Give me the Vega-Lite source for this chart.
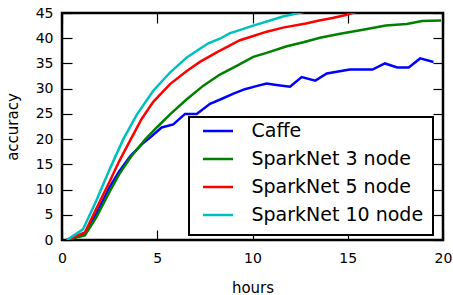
{
  "$schema": "https://vega.github.io/schema/vega-lite/v6.json",
  "width": 381,
  "height": 227,
  "autosize": {"type": "none"},
  "padding": {"left": 62, "top": 13, "right": 10, "bottom": 55},
  "config": {
    "font": "DejaVu Sans",
    "view": {"stroke": "black", "strokeWidth": 2.5},
    "axis": {
      "domain": false,
      "grid": false,
      "labelFlush": false,
      "tickColor": "black",
      "tickWidth": 1.2,
      "tickSize": -10,
      "labelFont": "DejaVu Sans",
      "labelFontSize": 14,
      "labelColor": "black",
      "titleFont": "DejaVu Sans",
      "titleFontSize": 15,
      "titleFontWeight": "normal",
      "titleColor": "black"
    },
    "legend": {
      "labelFont": "DejaVu Sans",
      "labelFontSize": 19,
      "labelColor": "black"
    }
  },
  "data": {
    "values": [
      {"series": "Caffe", "hours": 0.25, "accuracy": 0},
      {"series": "Caffe", "hours": 1.2, "accuracy": 1.2},
      {"series": "Caffe", "hours": 1.8, "accuracy": 5.2},
      {"series": "Caffe", "hours": 2.5, "accuracy": 10.5},
      {"series": "Caffe", "hours": 3.0, "accuracy": 13.6},
      {"series": "Caffe", "hours": 3.6, "accuracy": 16.7},
      {"series": "Caffe", "hours": 4.2, "accuracy": 19.0},
      {"series": "Caffe", "hours": 4.62, "accuracy": 20.3},
      {"series": "Caffe", "hours": 5.23, "accuracy": 22.3},
      {"series": "Caffe", "hours": 5.84, "accuracy": 22.9},
      {"series": "Caffe", "hours": 6.46, "accuracy": 25.0},
      {"series": "Caffe", "hours": 7.07, "accuracy": 25.0},
      {"series": "Caffe", "hours": 7.77, "accuracy": 27.0},
      {"series": "Caffe", "hours": 8.4, "accuracy": 28.0},
      {"series": "Caffe", "hours": 9.0, "accuracy": 29.0},
      {"series": "Caffe", "hours": 9.6, "accuracy": 29.9},
      {"series": "Caffe", "hours": 10.2, "accuracy": 30.5},
      {"series": "Caffe", "hours": 10.74, "accuracy": 31.0},
      {"series": "Caffe", "hours": 11.35, "accuracy": 30.7},
      {"series": "Caffe", "hours": 11.97, "accuracy": 30.4},
      {"series": "Caffe", "hours": 12.58, "accuracy": 32.3},
      {"series": "Caffe", "hours": 13.3, "accuracy": 31.6},
      {"series": "Caffe", "hours": 13.9, "accuracy": 33.0},
      {"series": "Caffe", "hours": 14.5, "accuracy": 33.4},
      {"series": "Caffe", "hours": 15.1, "accuracy": 33.8},
      {"series": "Caffe", "hours": 16.3, "accuracy": 33.8},
      {"series": "Caffe", "hours": 16.95, "accuracy": 35.0},
      {"series": "Caffe", "hours": 17.6, "accuracy": 34.2},
      {"series": "Caffe", "hours": 18.2, "accuracy": 34.2},
      {"series": "Caffe", "hours": 18.8, "accuracy": 36.0},
      {"series": "Caffe", "hours": 19.5, "accuracy": 35.3},

      {"series": "SparkNet 3 node", "hours": 0.25, "accuracy": 0},
      {"series": "SparkNet 3 node", "hours": 1.2, "accuracy": 0.9},
      {"series": "SparkNet 3 node", "hours": 1.8, "accuracy": 4.5},
      {"series": "SparkNet 3 node", "hours": 2.5, "accuracy": 9.6},
      {"series": "SparkNet 3 node", "hours": 3.0, "accuracy": 13.0},
      {"series": "SparkNet 3 node", "hours": 3.6, "accuracy": 16.4},
      {"series": "SparkNet 3 node", "hours": 4.36, "accuracy": 19.9},
      {"series": "SparkNet 3 node", "hours": 5.0, "accuracy": 22.4},
      {"series": "SparkNet 3 node", "hours": 5.67, "accuracy": 24.9},
      {"series": "SparkNet 3 node", "hours": 6.55, "accuracy": 27.9},
      {"series": "SparkNet 3 node", "hours": 7.42, "accuracy": 30.6},
      {"series": "SparkNet 3 node", "hours": 8.29, "accuracy": 32.8},
      {"series": "SparkNet 3 node", "hours": 9.17, "accuracy": 34.5},
      {"series": "SparkNet 3 node", "hours": 10.04, "accuracy": 36.3},
      {"series": "SparkNet 3 node", "hours": 10.74, "accuracy": 37.1},
      {"series": "SparkNet 3 node", "hours": 11.8, "accuracy": 38.4},
      {"series": "SparkNet 3 node", "hours": 12.67, "accuracy": 39.2},
      {"series": "SparkNet 3 node", "hours": 13.54, "accuracy": 40.1},
      {"series": "SparkNet 3 node", "hours": 14.6, "accuracy": 40.9},
      {"series": "SparkNet 3 node", "hours": 15.8, "accuracy": 41.7},
      {"series": "SparkNet 3 node", "hours": 17.0, "accuracy": 42.5},
      {"series": "SparkNet 3 node", "hours": 18.1, "accuracy": 42.8},
      {"series": "SparkNet 3 node", "hours": 18.9, "accuracy": 43.4},
      {"series": "SparkNet 3 node", "hours": 19.9, "accuracy": 43.5},

      {"series": "SparkNet 5 node", "hours": 0.25, "accuracy": 0},
      {"series": "SparkNet 5 node", "hours": 1.2, "accuracy": 1.5},
      {"series": "SparkNet 5 node", "hours": 1.8, "accuracy": 6.2},
      {"series": "SparkNet 5 node", "hours": 2.5, "accuracy": 11.6},
      {"series": "SparkNet 5 node", "hours": 3.0, "accuracy": 15.6},
      {"series": "SparkNet 5 node", "hours": 3.6, "accuracy": 19.9},
      {"series": "SparkNet 5 node", "hours": 4.18, "accuracy": 24.0},
      {"series": "SparkNet 5 node", "hours": 4.79, "accuracy": 27.4},
      {"series": "SparkNet 5 node", "hours": 5.67, "accuracy": 30.9},
      {"series": "SparkNet 5 node", "hours": 6.55, "accuracy": 33.5},
      {"series": "SparkNet 5 node", "hours": 7.24, "accuracy": 35.3},
      {"series": "SparkNet 5 node", "hours": 8.12, "accuracy": 37.2},
      {"series": "SparkNet 5 node", "hours": 8.82, "accuracy": 38.6},
      {"series": "SparkNet 5 node", "hours": 9.34, "accuracy": 39.6},
      {"series": "SparkNet 5 node", "hours": 10.0, "accuracy": 40.4},
      {"series": "SparkNet 5 node", "hours": 10.75, "accuracy": 41.3},
      {"series": "SparkNet 5 node", "hours": 11.6, "accuracy": 42.1},
      {"series": "SparkNet 5 node", "hours": 12.8, "accuracy": 42.9},
      {"series": "SparkNet 5 node", "hours": 13.5, "accuracy": 43.5},
      {"series": "SparkNet 5 node", "hours": 14.2, "accuracy": 44.0},
      {"series": "SparkNet 5 node", "hours": 14.9, "accuracy": 44.6},
      {"series": "SparkNet 5 node", "hours": 15.6, "accuracy": 45.4},

      {"series": "SparkNet 10 node", "hours": 0.25, "accuracy": 0},
      {"series": "SparkNet 10 node", "hours": 1.1, "accuracy": 2.1},
      {"series": "SparkNet 10 node", "hours": 1.8, "accuracy": 7.8},
      {"series": "SparkNet 10 node", "hours": 2.5, "accuracy": 14.0},
      {"series": "SparkNet 10 node", "hours": 3.22, "accuracy": 20.0},
      {"series": "SparkNet 10 node", "hours": 3.92, "accuracy": 24.8},
      {"series": "SparkNet 10 node", "hours": 4.79, "accuracy": 29.6},
      {"series": "SparkNet 10 node", "hours": 5.67, "accuracy": 33.2},
      {"series": "SparkNet 10 node", "hours": 6.55, "accuracy": 36.2},
      {"series": "SparkNet 10 node", "hours": 7.24, "accuracy": 37.9},
      {"series": "SparkNet 10 node", "hours": 7.68, "accuracy": 39.0},
      {"series": "SparkNet 10 node", "hours": 8.29, "accuracy": 39.9},
      {"series": "SparkNet 10 node", "hours": 8.82, "accuracy": 41.0},
      {"series": "SparkNet 10 node", "hours": 9.08, "accuracy": 41.3},
      {"series": "SparkNet 10 node", "hours": 10.04, "accuracy": 42.5},
      {"series": "SparkNet 10 node", "hours": 10.92, "accuracy": 43.5},
      {"series": "SparkNet 10 node", "hours": 11.6, "accuracy": 44.3},
      {"series": "SparkNet 10 node", "hours": 12.3, "accuracy": 44.9},
      {"series": "SparkNet 10 node", "hours": 12.9, "accuracy": 45.4}
    ]
  },
  "layer": [
    {
      "mark": {"type": "line", "strokeWidth": 2.5, "clip": true},
      "encoding": {
        "x": {
          "field": "hours", "type": "quantitative",
          "scale": {"domain": [0, 20], "nice": false, "zero": false},
          "axis": {"orient": "bottom", "values": [0, 5, 10, 15, 20], "title": "hours", "labelPadding": 21, "titlePadding": 15}
        },
        "y": {
          "field": "accuracy", "type": "quantitative",
          "scale": {"domain": [0, 45], "nice": false},
          "axis": {"orient": "left", "values": [0, 5, 10, 15, 20, 25, 30, 35, 40, 45], "title": "accuracy", "labelPadding": 19, "titlePadding": 15}
        },
        "color": {
          "field": "series", "type": "nominal",
          "sort": ["Caffe", "SparkNet 3 node", "SparkNet 5 node", "SparkNet 10 node"],
          "scale": {
            "domain": ["Caffe", "SparkNet 3 node", "SparkNet 5 node", "SparkNet 10 node"],
            "range": ["#0000ff", "#008000", "#ff0000", "#00bfbf"]
          },
          "legend": {
            "title": null,
            "orient": "none",
            "legendX": 127,
            "legendY": 104,
            "symbolType": "stroke",
            "symbolSize": 900,
            "symbolStrokeWidth": 2.5,
            "symbolOffset": 3,
            "clipHeight": 9,
            "labelOffset": 17,
            "labelLimit": 400,
            "rowPadding": 8,
            "padding": 9.5,
            "fillColor": "white",
            "strokeColor": "black",
            "encode": {"legend": {"update": {"strokeWidth": {"value": 2}}}}
          }
        }
      }
    },
    {
      "mark": {"type": "line", "strokeOpacity": 0},
      "encoding": {
        "x": {
          "field": "hours", "type": "quantitative",
          "axis": {"orient": "top", "values": [0, 5, 10, 15, 20], "labels": false, "title": null}
        },
        "y": {
          "field": "accuracy", "type": "quantitative",
          "axis": {"orient": "right", "values": [0, 5, 10, 15, 20, 25, 30, 35, 40, 45], "labels": false, "title": null}
        },
        "detail": {"field": "series"}
      }
    }
  ],
  "resolve": {"axis": {"x": "independent", "y": "independent"}}
}
